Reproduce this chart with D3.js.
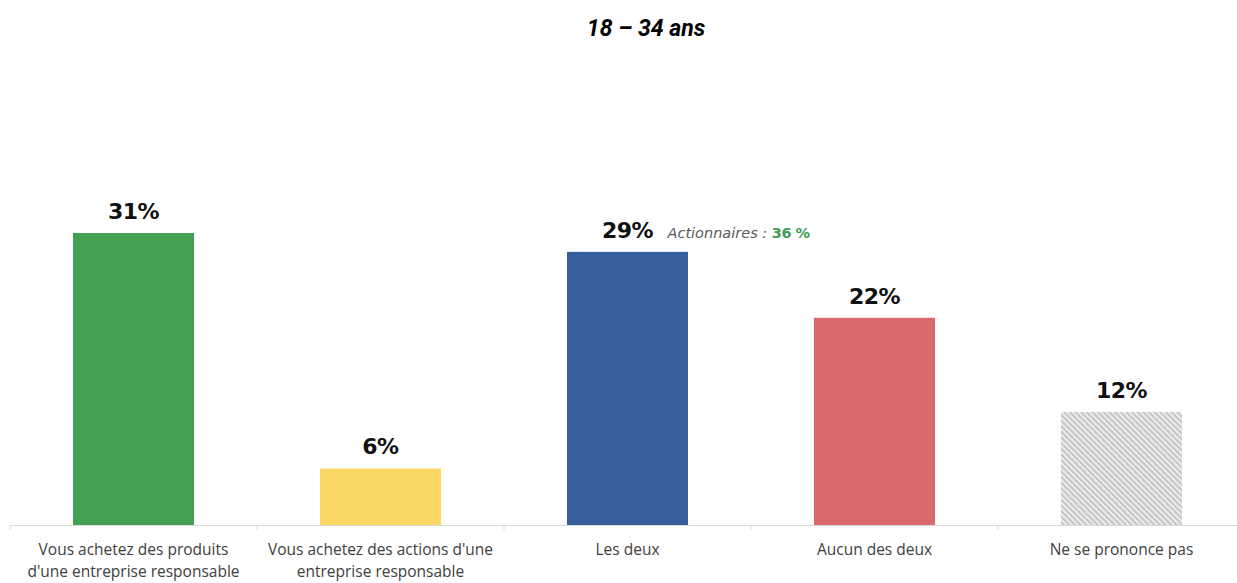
<!DOCTYPE html>
<html>
<head>
<meta charset="utf-8">
<script src="https://cdn.jsdelivr.net/npm/d3@7"></script>
<style>
  body { margin: 0; background: #fff; }
  svg { display: block; }
</style>
</head>
<body>
<div id="wrapper"></div>
<script>
// chart data
var categories = [
    ["Vous achetez des produits", "d'une entreprise responsable"],
    ["Vous achetez des actions d'une", "entreprise responsable"],
    ["Les deux"],
    ["Aucun des deux"],
    ["Ne se prononce pas"]
];
var values = [31, 6, 29, 22, 12];
var valueLabels = ["31%", "6%", "29%", "22%", "12%"];
var barColors = ["#43a155", "#fdd866", "#365f9b", "#da6a69", "hatch"];
var titleText = "18 \u2013 34 ans";
var noteLabel = "Actionnaires : ";
var noteValue = "36 %";

var dimension = {
    width: 1237,
    height: 583,
    margin: { top: 0, left: 10, right: -8, bottom: 58 }
};
dimension.baseline = dimension.height - dimension.margin.bottom; // 525

const svg = d3.select("#wrapper")
    .append("svg")
    .attr("width", dimension.width)
    .attr("height", dimension.height);

// hatch pattern for "Ne se prononce pas"
const defs = svg.append("defs");
const pat = defs.append("pattern")
    .attr("id", "hatch")
    .attr("patternUnits", "userSpaceOnUse")
    .attr("width", 4)
    .attr("height", 4)
    .attr("patternTransform", "rotate(-45)");
pat.append("rect").attr("width", 4).attr("height", 4).attr("fill", "#ececec");
pat.append("rect").attr("x", 0).attr("width", 2).attr("height", 4).attr("fill", "#c6c6c6");

const xScaler = d3.scaleBand()
    .domain(d3.range(categories.length))
    .range([dimension.margin.left, dimension.width - dimension.margin.right])
    .paddingInner(0.51)
    .paddingOuter(0.255);

const yScaler = d3.scaleLinear()
    .domain([0, 31])
    .range([dimension.baseline, dimension.baseline - 292]);

// title
svg.append("text")
    .attr("x", 646)
    .attr("y", 36)
    .attr("text-anchor", "middle")
    .style("font-family", "Roboto")
    .style("font-weight", "bold")
    .style("font-style", "italic")
    .style("font-size", "23px")
    .style("fill", "#000")
    .text(titleText);

// bars
svg.append("g")
    .selectAll("rect")
    .data(values)
    .enter()
    .append("rect")
    .attr("x", (d, i) => xScaler(i))
    .attr("width", xScaler.bandwidth())
    .attr("y", d => yScaler(d))
    .attr("height", d => yScaler(0) - yScaler(d))
    .attr("fill", (d, i) => barColors[i] == "hatch" ? "url(#hatch)" : barColors[i]);

// value labels
svg.append("g")
    .selectAll("text")
    .data(values)
    .enter()
    .append("text")
    .attr("x", (d, i) => xScaler(i) + xScaler.bandwidth() / 2)
    .attr("y", d => yScaler(d) - 14)
    .attr("text-anchor", "middle")
    .style("font-family", "DejaVu Sans")
    .style("font-weight", "bold")
    .style("font-size", "22px")
    .style("letter-spacing", "-0.5px")
    .style("fill", "#111")
    .text((d, i) => valueLabels[i]);

// annotation next to "Les deux"
const note = svg.append("text")
    .attr("x", xScaler(2) + xScaler.bandwidth() / 2 + 40)
    .attr("y", yScaler(values[2]) - 14)
    .style("font-family", "DejaVu Sans")
    .style("font-size", "14.5px");
note.append("tspan")
    .style("font-style", "italic")
    .style("fill", "#5a5a5a")
    .text(noteLabel);
note.append("tspan")
    .style("font-weight", "bold")
    .style("letter-spacing", "-0.5px")
    .style("fill", "#3f9e50")
    .text(noteValue);

// x axis
const xAxisGenerator = d3.axisBottom(xScaler)
    .tickSize(0)
    .tickFormat("");
const xAxis = svg.append("g")
    .attr("transform", `translate(0, ${dimension.baseline})`)
    .call(xAxisGenerator);
xAxis.select(".domain").attr("stroke", "#d9d9d9").attr("stroke-width", 1.2);

// separators between categories
const bounds = d3.range(categories.length).map(i => xScaler(i) - xScaler.step() * xScaler.paddingInner() / 2);
svg.append("g")
    .selectAll("line")
    .data(bounds)
    .enter()
    .append("line")
    .attr("x1", d => d)
    .attr("x2", d => d)
    .attr("y1", dimension.baseline)
    .attr("y2", dimension.baseline + 5)
    .attr("stroke", "#d9d9d9");

// category labels
svg.append("g")
    .selectAll("text")
    .data(categories)
    .enter()
    .append("text")
    .attr("x", (d, i) => xScaler(i) + xScaler.bandwidth() / 2)
    .attr("y", dimension.baseline + 30)
    .attr("text-anchor", "middle")
    .style("font-family", "Open Sans")
    .style("font-size", "15.5px")
    .style("fill", "#404040")
    .each(function(d) {
        d3.select(this).selectAll("tspan")
            .data(d)
            .enter()
            .append("tspan")
            .attr("x", d3.select(this).attr("x"))
            .attr("dy", (t, j) => j == 0 ? 0 : 22)
            .text(t => t);
    });
</script>
</body>
</html>
